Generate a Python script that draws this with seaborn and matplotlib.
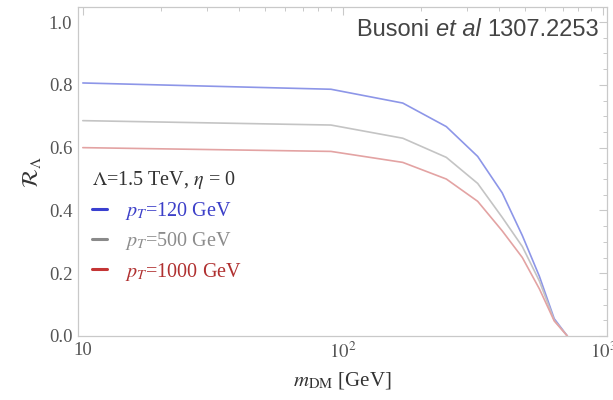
import numpy as np
import pandas as pd
import matplotlib
matplotlib.use("Agg")
import matplotlib.pyplot as plt
from matplotlib.lines import Line2D
from matplotlib.ticker import FixedLocator, MultipleLocator, NullFormatter
import seaborn as sns

# Dark matter mass grid [GeV]
m_dm = [10, 90, 170, 250, 330, 410, 490, 570, 650, 730]

# R_Lambda for each jet pT cut
r_pt120 = [0.806, 0.786, 0.742, 0.667, 0.572, 0.456, 0.320, 0.190, 0.055, 0.0]
r_pt500 = [0.686, 0.672, 0.630, 0.569, 0.486, 0.378, 0.285, 0.175, 0.050, 0.0]
r_pt1000 = [0.600, 0.588, 0.553, 0.500, 0.429, 0.335, 0.250, 0.150, 0.048, 0.0]

series_names = ["pT=120", "pT=500", "pT=1000"]
legend_labels = [r"$p_T$=120 GeV", r"$p_T$=500 GeV", r"$p_T$=1000 GeV"]

df = pd.DataFrame({
    "m": m_dm * 3,
    "R": r_pt120 + r_pt500 + r_pt1000,
    "series": sum([[s] * len(m_dm) for s in series_names], []),
})

sns.set_style("white")
plt.rcParams["font.family"] = ["Liberation Serif", "DejaVu Serif"]
plt.rcParams["mathtext.fontset"] = "stix"

line_colors = {"pT=120": "#8d96e8", "pT=500": "#c4c4c4", "pT=1000": "#e3a3a3"}
key_colors = ["#3a40d0", "#8a8a8a", "#c43535"]
text_colors = ["#3c3fc8", "#8c8c8c", "#b03030"]

fig = plt.figure(figsize=(6.13, 4.0), dpi=100)
ax = fig.add_axes([0.127, 0.16, 0.863, 0.8225])

sns.lineplot(data=df, x="m", y="R", hue="series", palette=line_colors,
             hue_order=series_names, legend=False, linewidth=1.2, ax=ax)

ax.set_xscale("log")
ax.set_xlim(9.57, 1036)
ax.set_ylim(0, 1.048)

frame = "#c9c9c9"
for sp in ax.spines.values():
    sp.set_color(frame)
    sp.set_linewidth(0.9)

ax.xaxis.set_major_locator(FixedLocator([10, 100, 1000]))
ax.set_xticklabels(["10", r"$10^2$", r"$10^3$"])
minor_x = [k * 10 ** d for d in (1, 2) for k in range(2, 10)]
ax.xaxis.set_minor_locator(FixedLocator(minor_x))
ax.xaxis.set_minor_formatter(NullFormatter())
ax.yaxis.set_major_locator(MultipleLocator(0.2))
ax.yaxis.set_minor_locator(MultipleLocator(0.05))
ax.set_yticks([0.0, 0.2, 0.4, 0.6, 0.8, 1.0])
ax.set_yticklabels(["0.0", "0.2", "0.4", "0.6", "0.8", "1.0"])

ax.tick_params(which="both", direction="in", top=True, right=True,
               color=frame, labelcolor="#555555", labelsize=13.5, pad=4)
ax.tick_params(which="major", length=6, width=0.8)
ax.tick_params(which="minor", length=3, width=0.7)

ax.set_xlabel(r"$m_{\mathrm{DM}}$ [GeV]", fontsize=15, color="#333333", labelpad=6)
ax.set_ylabel(r"$\mathcal{R}_{\Lambda}$", fontsize=16, color="#333333", labelpad=4)

# Citation tag in the upper right, built right-to-left so the italic part sits inline
sans = ["Liberation Sans", "DejaVu Sans"]
t3 = ax.text(0.985, 0.965, "1307.2253", transform=ax.transAxes,
             ha="right", va="top", fontsize=17, color="#444444", family=sans)
t2 = ax.annotate("et al ", xy=(0, 0), xycoords=t3, ha="right", va="bottom",
                 fontsize=17, color="#444444", family=sans, style="italic")
t1 = ax.annotate("Busoni ", xy=(0, 0), xycoords=t2, ha="right", va="bottom",
                 fontsize=17, color="#444444", family=sans)

handles = [Line2D([0], [0], color=c, lw=2.2) for c in key_colors]
leg = ax.legend(handles, legend_labels, title=r"$\Lambda$=1.5 TeV, $\eta$ = 0",
                loc="upper left", bbox_to_anchor=(0.0, 0.55), frameon=False,
                fontsize=14.5, title_fontsize=14.5, handlelength=0.75,
                handletextpad=0.9, labelspacing=0.42, alignment="left",
                borderaxespad=0.3)
leg.get_title().set_color("#333333")
for t, c in zip(leg.get_texts(), text_colors):
    t.set_color(c)

fig.savefig("out.png", dpi=100)
